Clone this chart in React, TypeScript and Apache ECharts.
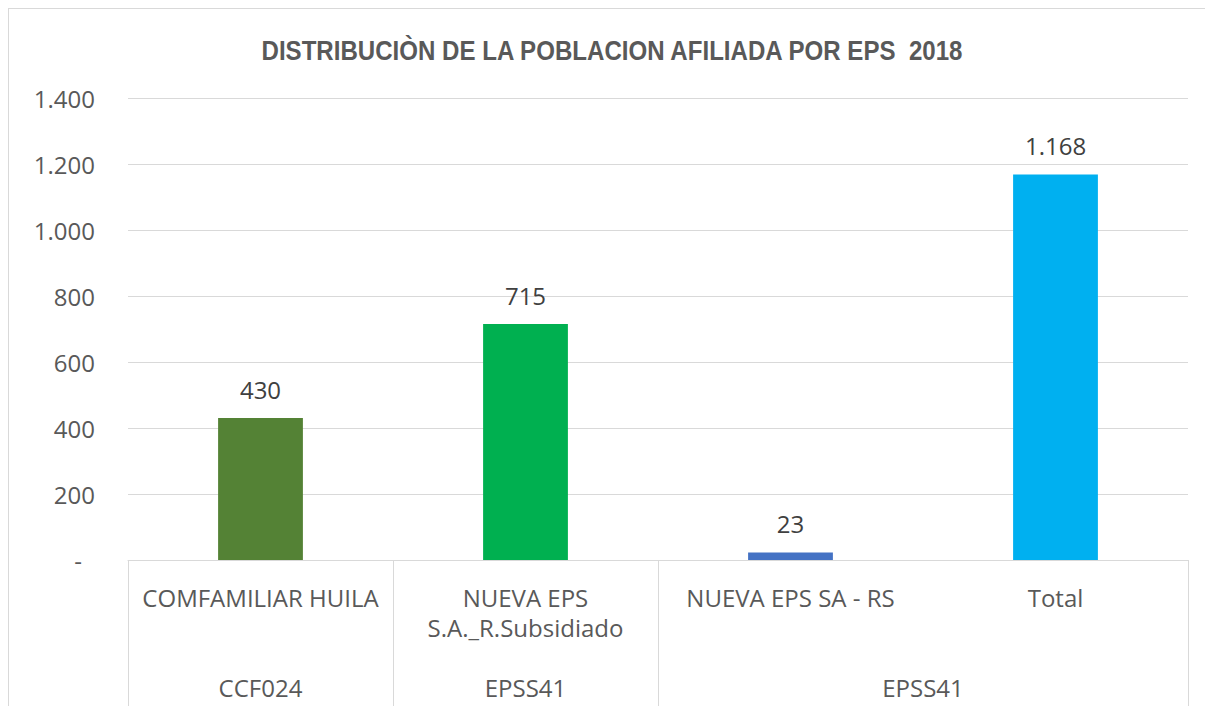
import React, { useEffect, useRef } from "react";
import * as echarts from "echarts";

const titleText = "DISTRIBUCIÒN DE LA POBLACION AFILIADA POR EPS  2018";
const categories = ["COMFAMILIAR HUILA", "NUEVA EPS\nS.A._R.Subsidiado", "NUEVA EPS SA - RS", "Total"];
const values = [430, 715, 23, 1168];
const barColors = ["#548235", "#00B050", "#4472C4", "#00B0F0"];
const groupLabels = ["CCF024", "EPSS41", "EPSS41"];
const groupCenters = [0.5, 1.5, 3];
const yTicks = { min: 0, max: 1400, interval: 200 };

const fmt = (v: number) => {
  const s = Math.round(v).toString();
  return s.replace(/\B(?=(\d{3})+(?!\d))/g, ".");
};

const FONT = "'Open Sans', 'Noto Sans', sans-serif";

export default function App() {
  const ref = useRef<HTMLDivElement>(null);
  useEffect(() => {
    if (!ref.current) return;
    const chart = echarts.init(ref.current, undefined, { renderer: "svg" });
    chart.setOption({
      animation: false,
      backgroundColor: "#ffffff",
      graphic: [
        {
          type: "text",
          x: 603,
          y: 41,
          scaleX: 0.86,
          style: {
            text: titleText,
            fill: "#595959",
            font: "bold 28px 'Liberation Sans', Arial, sans-serif",
            textAlign: "center",
            textVerticalAlign: "middle",
          },
        },
      ],
      grid: { left: 119, right: 17, top: 89, bottom: 146, containLabel: false },
      xAxis: [
        {
          type: "category",
          data: categories,
          position: "bottom",
          axisLine: { show: true, lineStyle: { color: "#D9D9D9", width: 1 } },
          axisTick: {
            show: true,
            alignWithLabel: false,
            interval: (i: number) => i !== 3,
            length: 146,
            lineStyle: { color: "#D9D9D9", width: 1 },
          },
          axisLabel: {
            interval: 0,
            margin: 22,
            fontFamily: FONT,
            fontSize: 24,
            lineHeight: 30,
            color: "#595959",
          },
        },
        {
          type: "value",
          min: 0,
          max: 4,
          interval: 0.5,
          position: "bottom",
          offset: 104,
          axisLine: { show: false },
          axisTick: { show: false },
          splitLine: { show: false },
          axisLabel: {
            margin: 8,
            fontFamily: FONT,
            fontSize: 24,
            lineHeight: 30,
            color: "#595959",
            showMinLabel: true,
            showMaxLabel: true,
            formatter: (v: number) => {
              const idx = groupCenters.findIndex((c) => Math.abs(c - v) < 1e-6);
              return idx >= 0 ? groupLabels[idx] : "";
            },
          },
        },
      ],
      yAxis: {
        type: "value",
        min: yTicks.min,
        max: yTicks.max,
        interval: yTicks.interval,
        axisLine: { show: false },
        axisTick: { show: false },
        splitLine: { show: true, lineStyle: { color: "#D9D9D9", width: 1 } },
        axisLabel: {
          margin: 33,
          fontFamily: FONT,
          fontSize: 24,
          color: "#595959",
          formatter: (v: number) => (v === 0 ? "{d|-}" : fmt(v)),
          rich: {
            d: { fontFamily: FONT, fontSize: 24, color: "#595959", padding: [0, 13, 0, 0] },
          },
        },
      },
      series: [
        {
          type: "bar",
          xAxisIndex: 0,
          yAxisIndex: 0,
          barWidth: "32%",
          data: values.map((v, i) => ({ value: v, itemStyle: { color: barColors[i] } })),
          label: {
            show: true,
            position: "top",
            distance: 17,
            fontFamily: FONT,
            fontSize: 24,
            color: "#404040",
            formatter: (p: any) => fmt(p.value),
          },
        },
      ],
    });
    return () => chart.dispose();
  }, []);

  return (
    <div
      style={{
        width: 1197,
        height: 697,
        borderTop: "1px solid #D9D9D9",
        borderLeft: "1px solid #D9D9D9",
        background: "#ffffff",
      }}
    >
      <div ref={ref} style={{ width: 1196, height: 697 }} />
    </div>
  );
}
